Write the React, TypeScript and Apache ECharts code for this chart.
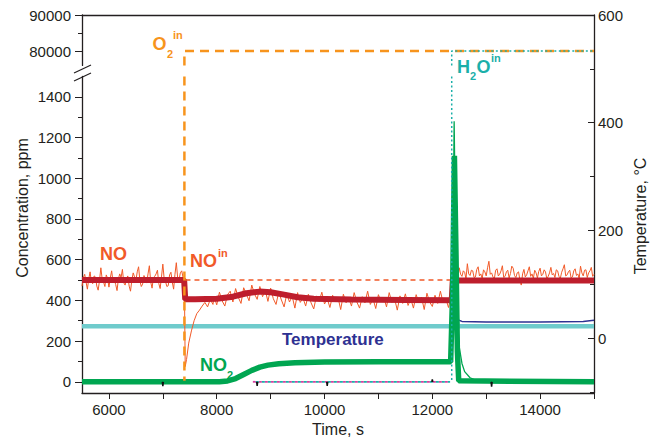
import React, { useEffect, useRef } from "react";
import * as echarts from "echarts";

// ---------- data ----------
const xLabelValues = [6000, 8000, 10000, 12000, 14000];
const xTickValues = [6000, 7000, 8000, 9000, 10000, 11000, 12000, 13000, 14000, 15000];
const yTopLabels = [80000, 90000];
const yTopMinor = [85000];
const yLowLabels = [0, 200, 400, 600, 800, 1000, 1200, 1400];
const yLowMinor = [100, 300, 500, 700, 900, 1100, 1300];
const tempLabels = [0, 200, 400, 600];
const tempMinor = [-100, 100, 300, 500];

// inlet steps
const o2Upper = [[7400, 76000], [7400, 80000], [15000, 80000]];
const o2Lower = [[7400, 1500], [7400, 5]];
const h2oUpper = [[12360, 76000], [12360, 80000], [15000, 80000]];
const h2oLower = [[12360, 1500], [12360, 0]];
const noInlet = [[7420, 500], [12360, 500]];

// NO measured (thin, noisy)
const noThin = [
  [5500, 470], [5525, 512], [5550, 528], [5575, 490], [5600, 455], [5625, 505], [5650, 540], [5675, 488],
  [5700, 482], [5725, 520], [5750, 515], [5775, 470], [5800, 450], [5825, 498], [5850, 560], [5875, 502],
  [5900, 490], [5925, 468], [5950, 525], [5975, 508], [6000, 465], [6025, 510], [6050, 545], [6075, 492],
  [6100, 500], [6125, 478], [6150, 448], [6175, 505], [6200, 530], [6225, 512], [6250, 552], [6275, 486],
  [6300, 475], [6325, 508], [6350, 520], [6375, 470], [6400, 445], [6425, 500], [6450, 535], [6475, 515],
  [6500, 498], [6525, 540], [6550, 565], [6575, 495], [6600, 468], [6625, 480], [6650, 522], [6675, 505],
  [6700, 485], [6725, 530], [6750, 570], [6775, 490], [6800, 460], [6825, 512], [6850, 518], [6875, 530],
  [6900, 548], [6925, 482], [6950, 458], [6975, 515], [7000, 578], [7025, 505], [7050, 492], [7075, 468],
  [7100, 472], [7125, 525], [7150, 538], [7175, 490], [7200, 455], [7225, 528], [7250, 585], [7275, 510],
  [7300, 500], [7325, 535], [7350, 545], [7375, 512],
  [7400, 470], [7415, 75], [7440, 110], [7480, 190], [7530, 250], [7580, 300], [7630, 335], [7680, 352],
  [7730, 372], [7780, 390], [7830, 368], [7880, 405], [7930, 380],
  [7950, 418], [8000, 378], [8050, 440], [8100, 398], [8150, 372], [8200, 428], [8250, 445], [8300, 392],
  [8350, 458], [8400, 415], [8450, 385], [8500, 462], [8550, 430], [8600, 398], [8650, 475], [8700, 432],
  [8750, 405], [8800, 468], [8850, 418], [8900, 450], [8950, 395], [9000, 460], [9050, 408], [9100, 380],
  [9150, 440], [9200, 402], [9250, 368], [9300, 432], [9350, 392], [9400, 420], [9450, 362], [9500, 438],
  [9550, 390], [9600, 412], [9650, 372], [9700, 430], [9750, 388], [9800, 358], [9850, 422], [9900, 395],
  [9950, 440], [10000, 382], [10050, 408], [10100, 365], [10150, 425], [10200, 392], [10250, 415], [10300, 355],
  [10350, 430], [10400, 388], [10450, 412], [10500, 372], [10550, 438], [10600, 392], [10650, 362], [10700, 418],
  [10750, 388], [10800, 445], [10850, 380], [10900, 408], [10950, 360], [11000, 428], [11050, 392], [11100, 415],
  [11150, 368], [11200, 438], [11250, 390], [11300, 408], [11350, 352], [11400, 422], [11450, 385], [11500, 432],
  [11550, 375], [11600, 408], [11650, 362], [11700, 428], [11750, 388], [11800, 415], [11850, 355], [11900, 435],
  [11950, 392], [12000, 370], [12050, 425], [12100, 385], [12150, 445], [12200, 388], [12250, 410], [12300, 365],
  [12350, 418], [12390, 480], [12420, 545],
  [12450, 530], [12475, 512], [12500, 560], [12525, 528], [12550, 518], [12575, 545], [12600, 538], [12625, 505],
  [12650, 580], [12675, 530], [12700, 522], [12725, 548], [12750, 545], [12775, 512], [12800, 515], [12825, 552],
  [12850, 565], [12875, 520], [12900, 530], [12925, 508], [12950, 550], [12975, 540], [13000, 520], [13025, 560],
  [13050, 592], [13075, 528], [13100, 535], [13125, 515], [13150, 505], [13175, 548], [13200, 555], [13225, 520],
  [13250, 528], [13275, 545], [13300, 570], [13325, 512], [13350, 518], [13375, 540], [13400, 548], [13425, 510],
  [13450, 532], [13475, 568], [13500, 558], [13525, 522], [13550, 512], [13575, 535], [13600, 540], [13625, 500],
  [13650, 475], [13675, 530], [13700, 552], [13725, 515], [13750, 525], [13775, 545], [13800, 565], [13825, 518],
  [13850, 530], [13875, 508], [13900, 548], [13925, 535], [13950, 510], [13975, 542], [14000, 558], [14025, 520],
  [14050, 528], [14075, 550], [14100, 540], [14125, 505], [14150, 518], [14175, 535], [14200, 562], [14225, 525],
  [14250, 532], [14275, 512], [14300, 550], [14325, 545], [14350, 518], [14375, 508], [14400, 538], [14425, 555],
  [14450, 575], [14475, 520], [14500, 525], [14525, 540], [14550, 548], [14575, 510], [14600, 515], [14625, 545],
  [14650, 555], [14675, 522], [14700, 530], [14725, 508], [14750, 568], [14775, 535], [14800, 520], [14825, 548],
  [14850, 550], [14875, 512], [14900, 535], [14925, 545], [14950, 562], [14975, 518], [15000, 528],
];

// NO measured (thick, smoothed)
const noThick = [
  [5500, 500], [7395, 500], [7415, 405], [7600, 405], [8000, 408], [8300, 418], [8550, 435], [8800, 443],
  [9000, 440], [9250, 428], [9500, 415], [9800, 408], [10500, 404], [11500, 402], [12360, 400], [12380, 497],
  [15000, 498],
];

// NO2 (thick and thin)
const no2Thick = [
  [5500, 0], [8050, 0], [8200, 4], [8350, 16], [8500, 36], [8650, 56], [8800, 72], [8950, 82], [9150, 89],
  [9450, 94], [10000, 97], [11000, 98], [12340, 98], [12375, 420], [12410, 1110], [12440, 620], [12465, 150],
  [12490, 5], [15000, 0],
];
const no2Thin = [
  [12330, 98], [12370, 320], [12405, 1280], [12430, 760], [12460, 330], [12500, 170], [12550, 90],
  [12600, 50], [12700, 20], [12800, 8], [13000, 2], [13200, 0],
];

// other traces near zero
const pinkTrace = [[8670, 0], [12330, 0]];
const blackTrace = [
  [6990, 0], [7000, -22], [7010, 0], [7015, "-"],
  [8740, 0], [8750, -20], [8760, 0], [8765, "-"],
  [10040, 0], [10050, -20], [10060, 0], [10065, "-"],
  [11990, 0], [12000, 12], [12010, 0], [12015, "-"],
  [13090, 0], [13100, -24], [13110, 0],
];

// temperatures (°C)
const tempLight = [[5500, 22], [12380, 22], [12410, 45], [12430, 65], [12450, 40], [12470, 22], [15000, 22]];
const tempDark = [
  [5500, 22], [12380, 22], [12440, 40], [12470, 34], [12550, 31], [13000, 30], [14000, 30], [14800, 31], [15000, 33],
];

// ---------- styling ----------
const FONT = "'Liberation Sans', Arial, Helvetica, sans-serif";
const AX = "#231F20";
const C_O2 = "#F7941D";
const C_H2O = "#1BAFA9";
const C_NO = "#F15A29";
const C_NOTHICK = "#BE1E2D";
const C_NO2 = "#00A651";
const C_TEMP = "#6FCBCC";
const C_NAVY = "#2E3192";

const fmt = (v: number) => String(v);

function line(data: any[], xi: number, yi: number, color: string, width: number, type: any = "solid", dashOffset = 0) {
  return {
    type: "line",
    data,
    xAxisIndex: xi,
    yAxisIndex: yi,
    showSymbol: false,
    symbol: "none",
    silent: true,
    clip: true,
    connectNulls: false,
    lineStyle: { color, width, type, dashOffset },
  };
}

function txt(text: string, x: number, y: number, size: number, color: string, bold = true, rotation = 0, align = "left") {
  return {
    type: "text",
    x,
    y,
    rotation,
    silent: true,
    style: {
      text,
      fill: color,
      font: `${bold ? "bold " : ""}${size}px ${FONT}`,
      textAlign: align,
      textVerticalAlign: "middle",
    },
  };
}

export default function App() {
  const ref = useRef<HTMLDivElement>(null);
  useEffect(() => {
    if (!ref.current) return;
    const chart = echarts.init(ref.current, null, { renderer: "svg" });
    const axLine = { show: true, onZero: false, lineStyle: { color: AX, width: 1.3 } };
    const tickStyle = { color: AX, width: 1 };
    const labelStyle = { fontSize: 15, color: AX, fontFamily: FONT, formatter: fmt };
    const gridBase = { left: 82, right: 57, containLabel: false, outerBoundsMode: "none" };
    const option: any = {
      animation: false,
      backgroundColor: "#ffffff",
      grid: [
        { ...gridBase, top: 15, height: 50.4 },
        { ...gridBase, top: 76.4, bottom: 47 },
        { ...gridBase, top: 15, bottom: 47 },
      ],
      xAxis: [
        {
          gridIndex: 0, type: "value", min: 5500, max: 15000, position: "top",
          axisLine: axLine, axisTick: { show: false }, axisLabel: { show: false }, splitLine: { show: false },
        },
        {
          gridIndex: 1, type: "value", min: 5500, max: 15000, position: "bottom",
          axisLine: axLine,
          axisTick: { show: true, inside: false, length: 6, customValues: xTickValues, lineStyle: tickStyle },
          axisLabel: { ...labelStyle, customValues: xLabelValues, margin: 9 },
          splitLine: { show: false },
          name: "Time, s", nameLocation: "middle", nameGap: 27,
          nameTextStyle: { fontSize: 16, color: AX, fontFamily: FONT },
        },
        {
          gridIndex: 2, type: "value", min: 5500, max: 15000, show: false,
        },
      ],
      yAxis: [
        {
          gridIndex: 0, type: "value", min: 76000, max: 90000, position: "left",
          axisLine: axLine,
          axisTick: { show: true, length: 7, customValues: yTopLabels, lineStyle: tickStyle },
          axisLabel: { ...labelStyle, customValues: yTopLabels, margin: 11 },
          splitLine: { show: false },
        },
        {
          gridIndex: 0, type: "value", min: 76000, max: 90000, position: "left",
          axisLine: { show: false },
          axisTick: { show: true, length: 4, customValues: yTopMinor, lineStyle: tickStyle },
          axisLabel: { show: false }, splitLine: { show: false },
        },
        {
          gridIndex: 1, type: "value", min: -55, max: 1500, position: "left",
          axisLine: axLine,
          axisTick: { show: true, length: 7, customValues: yLowLabels, lineStyle: tickStyle },
          axisLabel: { ...labelStyle, customValues: yLowLabels, margin: 11 },
          splitLine: { show: false },
        },
        {
          gridIndex: 1, type: "value", min: -55, max: 1500, position: "left",
          axisLine: { show: false },
          axisTick: { show: true, length: 4, customValues: yLowMinor, lineStyle: tickStyle },
          axisLabel: { show: false }, splitLine: { show: false },
        },
        {
          gridIndex: 2, type: "value", min: -102, max: 600, position: "right",
          axisLine: axLine,
          axisTick: { show: true, inside: true, length: 6, customValues: tempLabels, lineStyle: tickStyle },
          axisLabel: { ...labelStyle, customValues: tempLabels, margin: 4 },
          splitLine: { show: false },
        },
        {
          gridIndex: 2, type: "value", min: -102, max: 600, position: "right",
          axisLine: { show: false },
          axisTick: { show: true, inside: true, length: 4, customValues: tempMinor, lineStyle: tickStyle },
          axisLabel: { show: false }, splitLine: { show: false },
        },
      ],
      series: [
        line(tempDark, 2, 4, C_NAVY, 1.5),
        line(tempLight, 2, 4, C_TEMP, 4.5),
        line(noThin, 1, 2, C_NO, 1),
        line(noThick, 1, 2, C_NOTHICK, 6),
        line(noInlet, 1, 2, C_NO, 1.3, [5, 4]),
        line(pinkTrace, 1, 2, "#D6409F", 1.8, [3, 3]),
        line(pinkTrace, 1, 2, C_H2O, 1.8, [3, 3], 3),
        line(no2Thin, 1, 2, C_NO2, 1.3),
        line(no2Thick, 1, 2, C_NO2, 5.5),
        line(blackTrace, 1, 2, "#111111", 1.5),
        line(o2Lower, 1, 2, C_O2, 2.5, [9, 6]),
        line(h2oLower, 1, 2, C_H2O, 1.5, [2, 2.5]),
        line(o2Upper, 0, 0, C_O2, 2.5, [9, 6]),
        line(h2oUpper, 0, 0, C_H2O, 1.5, [2, 2.5]),
      ],
      graphic: [
        // axis break marks
        { type: "line", silent: true, shape: { x1: 74, y1: 73, x2: 91, y2: 65 }, style: { stroke: AX, lineWidth: 1.2 } },
        { type: "line", silent: true, shape: { x1: 74, y1: 81, x2: 91, y2: 73 }, style: { stroke: AX, lineWidth: 1.2 } },
        // axis titles
        txt("Concentration, ppm", 22, 208, 16, AX, false, Math.PI / 2, "center"),
        txt("Temperature, °C", 640, 216, 16, AX, false, Math.PI / 2, "center"),
        // O2 in
        txt("O", 152.5, 44, 18, C_O2),
        txt("2", 167, 54, 11, C_O2),
        txt("in", 173, 35, 11, C_O2),
        // H2O in
        txt("H", 457, 67, 18, C_H2O),
        txt("2", 470, 76, 11, C_H2O),
        txt("O", 476.5, 67, 18, C_H2O),
        txt("in", 491, 58, 11, C_H2O),
        // NO
        txt("NO", 100, 254, 18, C_NO),
        // NO in
        txt("NO", 190, 261, 18, C_NO),
        txt("in", 218, 253, 11, C_NO),
        // NO2
        txt("NO", 200, 365, 18, C_NO2),
        txt("2", 227, 375, 11, C_NO2),
        // Temperature
        txt("Temperature", 282, 339, 17, C_NAVY),
      ],
    };
    chart.setOption(option);
    return () => chart.dispose();
  }, []);
  return (
    <div
      ref={ref}
      style={{ position: "fixed", left: 0, top: 0, width: 651, height: 440, background: "#fff" }}
    />
  );
}
